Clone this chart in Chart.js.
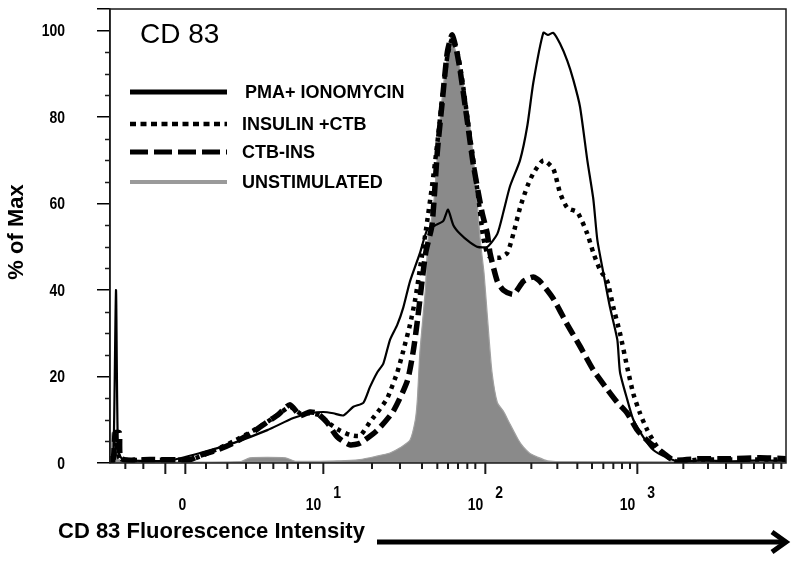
<!DOCTYPE html>
<html>
<head>
<meta charset="utf-8">
<script src="https://cdn.jsdelivr.net/npm/chart.js@4.4.1/dist/chart.umd.min.js"></script>
<style>
  html, body { margin: 0; padding: 0; background: #fff; }
  #wrap { width: 800px; height: 563px; }
</style>
</head>
<body>
<div id="wrap"><canvas id="histo" width="800" height="563"></canvas></div>
<script>
// --- data: x in channel units (0..1014), y in % of max ---
const SERIES_LABELS = ['PMA+ IONOMYCIN', 'INSULIN +CTB', 'CTB-INS', 'UNSTIMULATED'];

const PMA_X = [0, 5, 9, 12, 18, 45, 90, 135, 185, 236, 275, 300, 320, 335, 350, 365, 380, 390, 401, 410,
  420, 431, 440, 450, 465, 476, 488, 500, 507, 515, 525, 540, 551, 566, 581, 590, 600, 615, 626, 635,
  650, 657, 665, 675, 686, 695, 705, 716, 725, 731, 740, 750, 761, 765, 776, 785, 800, 815, 836, 855,
  885, 930, 975, 1014];
const PMA_Y = [0.5, 0.5, 40, 3, 1, 0.5, 0.6, 2.3, 4.6, 7.6, 10.4, 11.5, 11.8, 11.5, 11, 13, 13.9, 17.6, 21, 23,
  28.5, 32, 36, 42, 48.6, 54, 55, 56, 58.6, 55, 53, 51, 50, 50, 53, 58, 64, 70, 78, 88,
  99.5, 99, 99.5, 97, 93, 88.6, 82.4, 70, 61, 51.6, 44, 36, 28.5, 21, 14.6, 10, 6, 3, 1.2, 0.3,
  0.6, 0.4, 0.6, 0.5];

const INS_X = [0, 5, 9, 15, 60, 120, 135, 158, 185, 215, 236, 255, 270, 285, 300, 315, 330, 345, 360, 375,
  390, 405, 416, 431, 440, 450, 458, 465, 474, 483, 491, 498, 506, 513, 521, 528, 536, 545, 552, 560,
  567, 575, 585, 596, 605, 615, 626, 635, 650, 665, 675, 686, 701, 716, 725, 735, 746, 755, 765, 776,
  785, 795, 806, 821, 836, 851, 885, 945, 1014];
const INS_Y = [0.5, 0.5, 5, 1, 0.8, 0.8, 1.5, 3, 5, 7.5, 9.5, 11.5, 13, 11.5, 11.5, 11, 9, 7.5, 6.5, 6.3,
  9.5, 12.5, 15, 21, 26, 32, 38, 45, 54, 64, 74, 84, 94, 98, 95, 89, 80, 70, 62, 52,
  48, 47.5, 47.5, 48.6, 53, 59, 64, 67, 70, 68, 62.5, 59, 58, 53, 48.6, 44.7, 42, 36, 30, 22,
  16, 11.5, 7.6, 3.7, 1.4, 0.3, 0.8, 0.8, 0.8];

const CTB_X = [0, 5, 8, 14, 17, 60, 120, 135, 161, 185, 215, 236, 251, 270, 285, 300, 311, 326, 341, 360,
  375, 401, 425, 446, 455, 462, 468, 474, 483, 491, 498, 506, 513, 519, 525, 536, 545, 558, 566, 570,
  581, 590, 605, 620, 635, 645, 665, 686, 705, 725, 746, 761, 776, 791, 810, 830, 845, 885, 930, 975,
  1014];
const CTB_Y = [1, 1, 7, 7, 1, 0.8, 0.8, 1.8, 3, 4.6, 7.2, 9.5, 11, 13.5, 11, 11.8, 11.5, 9.3, 6, 4.2,
  4.6, 7.6, 12, 19, 26, 34, 42, 49, 55, 72, 83, 95, 99, 96, 91, 79, 69, 58, 53, 48.6,
  42, 40, 39, 42, 43, 42, 38, 32, 27, 21.5, 17, 14, 11.5, 7.6, 4.6, 2.3, 0.7, 1, 1, 1.2,
  1];

const UNST_X = [0, 3, 8, 12, 23, 195, 210, 263, 278, 345, 375, 398, 420, 435, 450, 458, 461, 465, 473, 477,
  485, 495, 504, 513, 522, 533, 542, 549, 555, 561, 567, 573, 581, 590, 600, 612, 620, 630, 641, 656,
  675, 1014];
const UNST_Y = [0, 7, 7, 1, 0.3, 0.3, 1.2, 1.2, 0.4, 0.5, 0.8, 1.5, 2.3, 3.5, 5.3, 10, 14.6, 26, 40, 51.6,
  59, 79, 92, 97.5, 93, 85, 75, 64, 52, 44, 32, 21, 14, 12, 9, 5.5, 3.7, 2.2, 1.4, 0.5,
  0.3, 0.3];

// axis ticks (channel units)
const X_MAJOR_TICKS = [83, 113, 320, 563, 791];
const X_MINOR_TICKS = [23, 50, 144, 176, 204, 225, 245, 266, 282, 300, 393, 435, 468, 491, 507, 522, 536, 548,
  632, 671, 701, 723, 740, 755, 768, 780, 860, 897, 924, 947, 966, 981, 995, 1007];
const X_LABEL_VALUES = [113, 320, 563, 791];
const X_LABEL_BASES = ['0', '10', '10', '10'];
const X_LABEL_EXPS = ['', '1', '2', '3'];
const Y_TICK_STEP = 20;
const Y_MINOR_STEP = 5;

const toPoints = (xs, ys) => xs.map((x, i) => ({ x: x, y: ys[i] }));

const SANS = "'Liberation Sans', Arial, sans-serif";

// legend sample styles, same order as SERIES_LABELS
const legendStyles = [
  { color: '#000', width: 5, dash: [] },
  { color: '#000', width: 4.5, dash: [6, 4.5] },
  { color: '#000', width: 5, dash: [18, 6] },
  { color: '#9a9a9a', width: 4, dash: [] }
];

// condensed bold text, like the narrow face of the original
function narrowText(ctx, text, x, y, align, size) {
  ctx.save();
  ctx.font = 'bold ' + size + 'px ' + SANS;
  ctx.translate(x, y);
  ctx.scale(0.82, 1);
  ctx.textAlign = align;
  ctx.fillText(text, 0, 0);
  ctx.restore();
}

const decor = {
  id: 'decor',
  afterDraw(chart) {
    const { ctx, chartArea: a, scales: { x, y } } = chart;
    ctx.save();

    // frame
    ctx.strokeStyle = '#1a1a1a';
    ctx.lineWidth = 1.5;
    ctx.strokeRect(a.left, a.top, a.right - a.left, a.bottom - a.top);

    // y minor ticks
    ctx.beginPath();
    for (let v = Y_MINOR_STEP; v < y.max; v += Y_MINOR_STEP) {
      if (v % Y_TICK_STEP === 0) continue;
      const py = Math.round(y.getPixelForValue(v)) + 0.5;
      ctx.moveTo(a.left - 5, py);
      ctx.lineTo(a.left, py);
    }
    ctx.stroke();

    // y tick labels (condensed)
    ctx.fillStyle = '#000';
    ctx.textBaseline = 'middle';
    for (let v = 0; v <= 100; v += Y_TICK_STEP) {
      narrowText(ctx, String(v), 65, y.getPixelForValue(v) + 1, 'right', 17);
    }

    // x ticks
    ctx.lineWidth = 2;
    ctx.beginPath();
    X_MINOR_TICKS.forEach(v => {
      const px = x.getPixelForValue(v);
      ctx.moveTo(px, a.bottom);
      ctx.lineTo(px, a.bottom + 6);
    });
    X_MAJOR_TICKS.forEach(v => {
      const px = x.getPixelForValue(v);
      ctx.moveTo(px, a.bottom);
      ctx.lineTo(px, a.bottom + 11);
    });
    ctx.stroke();

    // x tick labels (10 with raised exponent)
    ctx.textBaseline = 'alphabetic';
    X_LABEL_VALUES.forEach((v, i) => {
      const px = x.getPixelForValue(v);
      if (!X_LABEL_EXPS[i]) {
        narrowText(ctx, X_LABEL_BASES[i], px - 3, a.bottom + 47, 'center', 17);
      } else {
        narrowText(ctx, X_LABEL_BASES[i], px - 2, a.bottom + 47, 'right', 17);
        narrowText(ctx, X_LABEL_EXPS[i], px + 10, a.bottom + 35, 'left', 17);
      }
    });

    // axis titles
    ctx.textAlign = 'left';
    ctx.font = 'bold 22px ' + SANS;
    ctx.fillText('CD 83 Fluorescence Intensity', 58, 538);

    ctx.save();
    ctx.translate(17, 232);
    ctx.rotate(-Math.PI / 2);
    ctx.textAlign = 'center';
    ctx.textBaseline = 'middle';
    ctx.font = 'bold 22px ' + SANS;
    ctx.fillText('% of Max', 0, 0);
    ctx.restore();

    // arrow
    ctx.strokeStyle = '#000';
    ctx.lineWidth = 5;
    ctx.beginPath();
    ctx.moveTo(377, 542);
    ctx.lineTo(784, 542);
    ctx.stroke();
    ctx.beginPath();
    ctx.lineJoin = 'miter';
    ctx.moveTo(772, 532);
    ctx.lineTo(786, 542);
    ctx.lineTo(772, 552);
    ctx.stroke();

    // panel title
    ctx.font = '28px ' + SANS;
    ctx.textBaseline = 'alphabetic';
    ctx.fillText('CD 83', 140, 43);

    // legend
    const rows = [92, 124, 152, 182];
    ctx.font = 'bold 18px ' + SANS;
    ctx.textBaseline = 'middle';
    SERIES_LABELS.forEach((label, i) => {
      const s = legendStyles[i];
      ctx.strokeStyle = s.color;
      ctx.lineWidth = s.width;
      ctx.setLineDash(s.dash);
      ctx.lineCap = 'butt';
      ctx.beginPath();
      ctx.moveTo(130, rows[i]);
      ctx.lineTo(227, rows[i]);
      ctx.stroke();
      ctx.setLineDash([]);
      ctx.fillStyle = '#000';
      ctx.fillText(label, i === 0 ? 245 : 242, rows[i] + 1);
    });

    ctx.restore();
  }
};

new Chart(document.getElementById('histo'), {
  type: 'line',
  data: {
    datasets: [
      {
        label: SERIES_LABELS[0],
        data: toPoints(PMA_X, PMA_Y),
        borderColor: '#000',
        borderWidth: 2.2,
        fill: false
      },
      {
        label: SERIES_LABELS[1],
        data: toPoints(INS_X, INS_Y),
        borderColor: '#000',
        borderWidth: 4.5,
        borderDash: [4, 5],
        fill: false
      },
      {
        label: SERIES_LABELS[2],
        data: toPoints(CTB_X, CTB_Y),
        borderColor: '#000',
        borderWidth: 5.5,
        borderDash: [14, 6],
        fill: false
      },
      {
        label: SERIES_LABELS[3],
        data: toPoints(UNST_X, UNST_Y),
        borderColor: '#a0a0a0',
        backgroundColor: '#8a8a8a',
        borderWidth: 1.2,
        fill: 'origin'
      }
    ]
  },
  options: {
    responsive: false,
    animation: false,
    events: [],
    devicePixelRatio: 1,
    layout: { padding: { top: 9, right: 14, left: 0, bottom: 0 } },
    elements: { point: { radius: 0 }, line: { tension: 0.2 } },
    plugins: { legend: { display: false }, tooltip: { enabled: false } },
    scales: {
      x: {
        type: 'linear',
        min: 0,
        max: 1014,
        ticks: { display: false },
        grid: { display: false },
        border: { display: false },
        afterFit: s => { s.height = 100; s.paddingLeft = 0; s.paddingRight = 0; }
      },
      y: {
        min: 0,
        max: 105,
        ticks: { stepSize: Y_TICK_STEP, display: false },
        grid: { drawOnChartArea: false, tickLength: 13, color: '#000', lineWidth: 1.5 },
        border: { display: true, color: '#1a1a1a', width: 1.5 },
        afterFit: s => { s.width = 110; s.paddingTop = 0; s.paddingBottom = 0; }
      }
    }
  },
  plugins: [decor]
});
</script>
</body>
</html>
